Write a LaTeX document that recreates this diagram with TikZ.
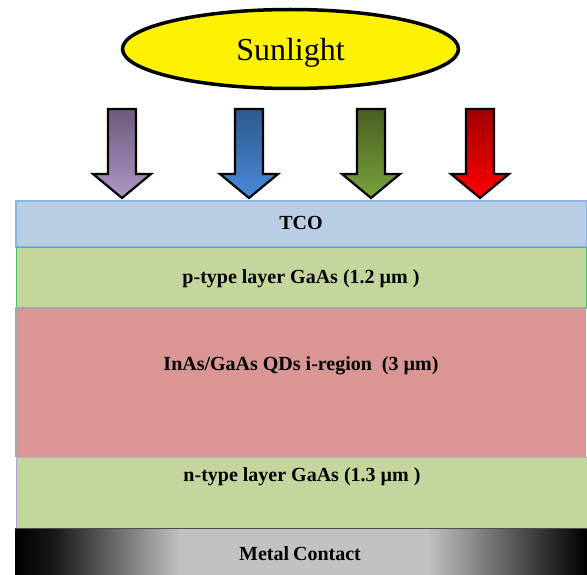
\documentclass[tikz,border=0pt]{standalone}
\usepackage{fontspec}
\setmainfont{Liberation Serif}
\usetikzlibrary{shapes.geometric}
\definecolor{tcofill}{HTML}{B9CDE5}
\definecolor{tcoline}{HTML}{8DB3E2}
\definecolor{gafill}{HTML}{C3D69B}
\definecolor{galine}{HTML}{4CBB6C}
\definecolor{qdfill}{HTML}{D99694}
\definecolor{greyline}{HTML}{A6A6A6}
\definecolor{lavline}{HTML}{B4A7D6}
\definecolor{metalgrey}{HTML}{C2C2C2}
\definecolor{a1t}{HTML}{6E5A7C}\definecolor{a1b}{HTML}{AE96C4}
\definecolor{a2t}{HTML}{2D5A8F}\definecolor{a2b}{HTML}{4A8AD8}
\definecolor{a3t}{HTML}{4A5E22}\definecolor{a3b}{HTML}{78A33C}
\definecolor{a4t}{HTML}{A00000}\definecolor{a4b}{HTML}{FF0000}
\pgfdeclarehorizontalshading{metal}{100bp}{color(0bp)=(black); color(25bp)=(black); color(28.5bp)=(black!90); color(39.5bp)=(metalgrey); color(50bp)=(metalgrey); color(61bp)=(metalgrey); color(73bp)=(black!90); color(75bp)=(black); color(100bp)=(black)}
\tikzset{
  layerbox/.style={anchor=north west, inner sep=0pt, outer sep=0pt},
  lbl/.style={font=\bfseries\fontsize{20}{22}\selectfont, inner sep=0pt},
  sunarrow/.style={draw=black, line width=2.2pt, line join=miter},
}
\begin{document}
\begin{tikzpicture}[x=1pt,y=-1pt]
\useasboundingbox (0,0) rectangle (587,575);
% sun
\node[ellipse, draw=black, line width=3.5pt, fill=yellow, minimum width=336pt, minimum height=79pt, inner sep=0pt] (sun) at (290.5,49) {};
\node[font=\fontsize{32}{36}\selectfont, inner sep=0pt] (suntext) at (290.5,53) {Sunlight};
% arrows
\foreach \cx/\nm in {122/a1, 249/a2, 371/a3, 480/a4}{
  \path[sunarrow, top color=\nm t, bottom color=\nm b]
    (\cx-14,109) -- (\cx+14,109) -- (\cx+14,174) -- (\cx+29,174) -- (\cx,198) -- (\cx-29,174) -- (\cx-14,174) -- cycle;
}
% layers
\node[layerbox, fill=tcofill, draw=tcoline, line width=1.6pt, minimum width=571pt, minimum height=46pt] (tco) at (15.8,200.8) {};
\node[layerbox, fill=gafill, draw=galine, line width=0.8pt, minimum width=570pt, minimum height=61pt] (ptype) at (16,247) {};
\node[layerbox, fill=qdfill, minimum width=571pt, minimum height=149pt] (qd) at (15,308) {};
\draw[greyline, line width=2pt] (15,308) -- (587,308);
\draw[greyline, line width=2pt] (16,308) -- (16,457);
\node[layerbox, fill=gafill, minimum width=571pt, minimum height=71pt] (ntype) at (16,457) {};
\draw[lavline, line width=0.8pt] (16.2,457) -- (16.2,528);
\draw[lavline, line width=0.8pt] (16,457) -- (587,457);
\node[layerbox, shading=metal, minimum width=572pt, minimum height=47pt] (metal) at (15,528) {};
\draw[black!70, line width=1.6pt] (15,528.5) -- (587,528.5);
% labels
\node[lbl] (ttco) at (301,223) {TCO};
\node[lbl] (tp) at (301,279) {p-type layer GaAs (1.2 µm )};
\node[lbl] (tqd) at (301,366) {InAs/GaAs QDs i-region~ (3 µm)};
\node[lbl] (tn) at (302,477) {n-type layer GaAs (1.3 µm )};
\node[lbl] (tm) at (300,554) {Metal\hspace{-1pt} Contact};
\end{tikzpicture}
\end{document}
